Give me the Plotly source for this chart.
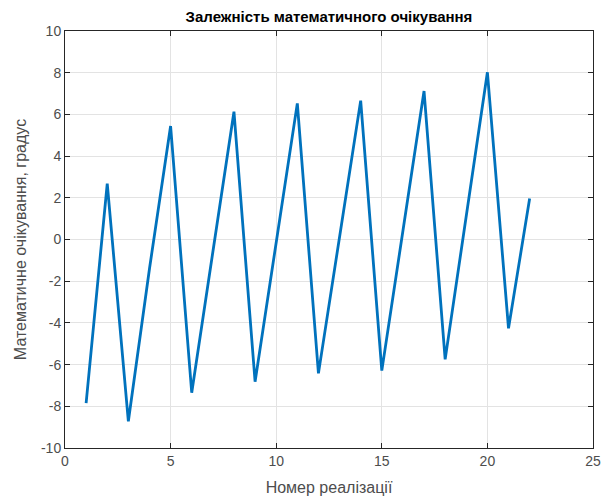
import plotly.graph_objects as go

realization = list(range(1, 23))
expectation = [-7.85, 2.68, -8.72, -1.4, 5.44, -7.35, -0.6, 6.13, -6.82, -0.15, 6.53,
               -6.42, 0.12, 6.66, -6.29, 0.4, 7.12, -5.75, 1.1, 8.02, -4.26, 1.97]

title_text = "Залежність математичного очікування"
x_label = "Номер реалізації"
y_label = "Математичне очікування, градус"
x_ticks = [0, 5, 10, 15, 20, 25]
y_ticks = [-10, -8, -6, -4, -2, 0, 2, 4, 6, 8, 10]

FONT = "Liberation Sans, Arial"

fig = go.Figure()
fig.add_trace(go.Scatter(x=realization, y=expectation, mode="lines",
                         line=dict(color="#0072BD", width=2.8)))

axis_common = dict(
    showline=True, linecolor="#262626", linewidth=1, mirror="ticks",
    ticks="inside", ticklen=5, tickcolor="#262626",
    showgrid=True, gridcolor="#E3E3E3", gridwidth=1, zeroline=False,
    automargin=False,
    tickfont=dict(family=FONT, size=14, color="#4D4D4D"),
)

fig.update_layout(
    width=601, height=503,
    margin=dict(l=65, r=8, t=31, b=55),
    paper_bgcolor="white", plot_bgcolor="white",
    showlegend=False,
    title=dict(text="<b>" + title_text + "</b>", x=0.5, xanchor="center",
               xref="paper", y=1 - 17 / 503, yanchor="middle",
               font=dict(family=FONT, size=15, color="#000000")),
    xaxis=dict(range=[0, 25], tickvals=x_ticks, ticktext=[str(v) for v in x_ticks],
               title=dict(text=x_label, standoff=14,
                          font=dict(family=FONT, size=16, color="#4D4D4D")),
               **axis_common),
    yaxis=dict(range=[-10, 10], tickvals=y_ticks, ticktext=[str(v) for v in y_ticks],
               title=dict(text=y_label, standoff=10,
                          font=dict(family=FONT, size=16, color="#4D4D4D")),
               **axis_common),
)

fig.write_html("out.html")
